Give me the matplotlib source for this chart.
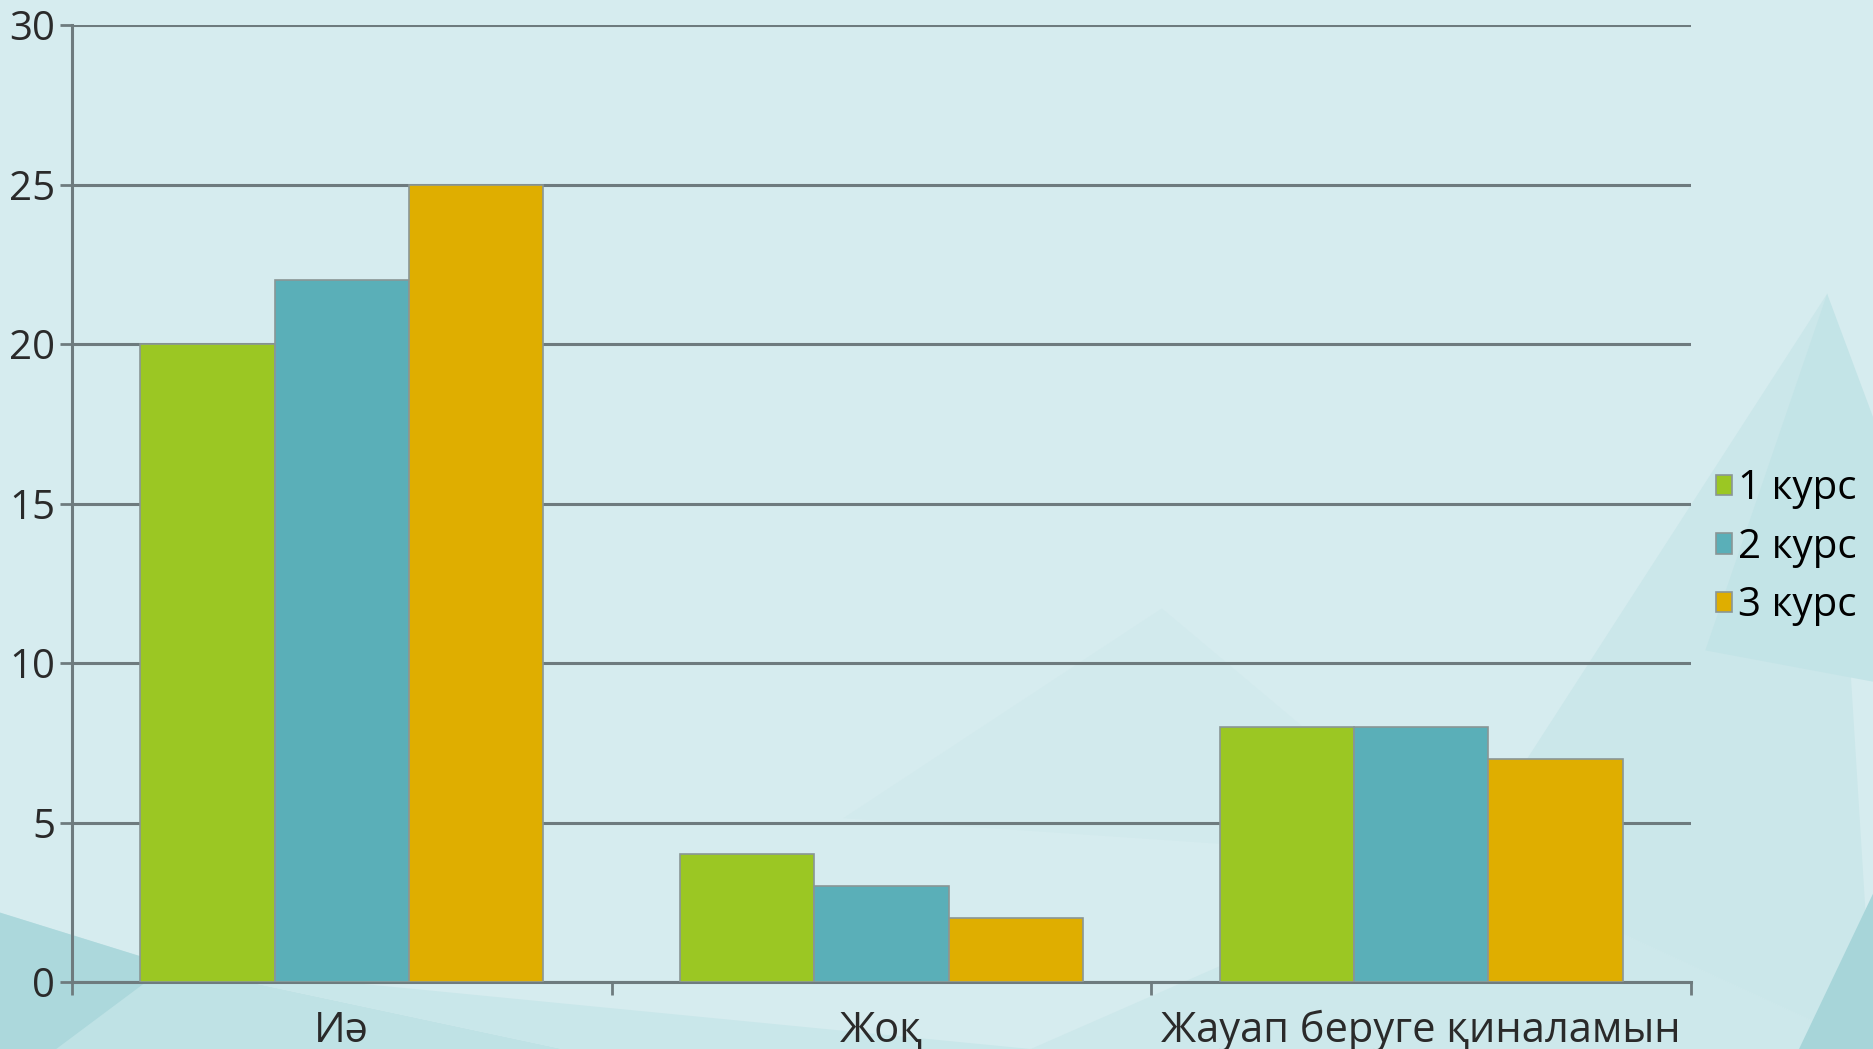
import matplotlib
matplotlib.use("Agg")
import matplotlib.pyplot as plt
from matplotlib.patches import Polygon
import numpy as np

categories = ["Иә", "Жоқ", "Жауап беруге қиналамын"]
series_names = ["1 курс", "2 курс", "3 курс"]
kurs1 = [20, 4, 8]
kurs2 = [22, 3, 8]
kurs3 = [25, 2, 7]
yticks = [0, 5, 10, 15, 20, 25, 30]

colors = ["#9BC723", "#5AAFB8", "#DFAE00"]
FONT = ["Open Sans", "Noto Sans", "DejaVu Sans"]
plt.rcParams['font.family'] = FONT

fig = plt.figure(figsize=(18.74, 10.49), dpi=100)
fig.patch.set_facecolor("#D6ECEF")

# subtle low-poly background shapes
bg = fig.add_axes([0, 0, 1, 1], zorder=-10)
bg.set_xlim(0, 1); bg.set_ylim(0, 1); bg.axis("off")
polys = [
    ([(0, 0), (0, 0.13), (0.09, 0.08), (0.30, 0)], "#BFE2E5"),
    ([(0, 0.13), (0.09, 0.08), (0.03, 0.0), (0, 0)], "#ACD8DC"),
    ([(0.30, 0), (0.09, 0.08), (0.55, 0.0)], "#C9E7EA"),
    ([(0.55, 0), (0.78, 0.18), (1.0, 0.0)], "#CDE8EB"),
    ([(0.78, 0.18), (0.975, 0.72), (1.0, 0.0)], "#CBE7EA"),
    ([(0.91, 0.38), (0.975, 0.72), (1.0, 0.6), (1.0, 0.35)], "#C3E4E7"),
    ([(0.96, 0.0), (1.0, 0.15), (1.0, 0.0)], "#A7D5D9"),
    ([(0.45, 0.22), (0.78, 0.18), (0.62, 0.42)], "#D2EAED"),
]
for pts, c in polys:
    bg.add_patch(Polygon(pts, closed=True, facecolor=c, edgecolor="none"))

ax = fig.add_axes([0.0384, 0.0639, 0.8640, 0.9121])
ax.set_facecolor("none")

x = np.arange(len(categories))
w = 0.249
for i, (vals, name) in enumerate(zip([kurs1, kurs2, kurs3], series_names)):
    ax.bar(x + (i - 1) * w, vals, width=w, color=colors[i], edgecolor="#8A9696",
           linewidth=1.2, label=name, zorder=3)

ax.set_xlim(-0.5, 2.5)
ax.set_ylim(0, 30)
ax.set_yticks(yticks)
ax.set_yticklabels([str(t) for t in yticks], fontsize=29, color="#2A2A2A")
ax.yaxis.grid(True, color="#6E7B7E", linewidth=2.2, zorder=1)
ax.set_axisbelow(True)

ax.set_xticks([-0.5, 0.5, 1.5, 2.5])
ax.set_xticklabels([])
ax.set_xticks(x, minor=True)
ax.set_xticklabels(categories, minor=True, fontsize=30, color="#2A2A2A")
ax.tick_params(axis="x", which="minor", length=0, pad=20)
ax.tick_params(axis="x", which="major", length=9, width=2, color="#6E7B7E", direction="out")
ax.tick_params(axis="y", length=9, width=2, color="#6E7B7E", pad=3)

for s in ["top", "right"]:
    ax.spines[s].set_visible(False)
for s in ["left", "bottom"]:
    ax.spines[s].set_color("#6E7B7E")
    ax.spines[s].set_linewidth(2.2)

leg = fig.legend(loc="center left", bbox_to_anchor=(0.9155, 0.478), frameon=False,
                 fontsize=29, handlelength=0.4, handleheight=0.4, handletextpad=0.15,
                 labelspacing=0.45, borderaxespad=0, borderpad=0)
for h in leg.legend_handles:
    h.set_edgecolor("#8A9696")

fig.savefig("out.png", dpi=100, facecolor=fig.get_facecolor())
